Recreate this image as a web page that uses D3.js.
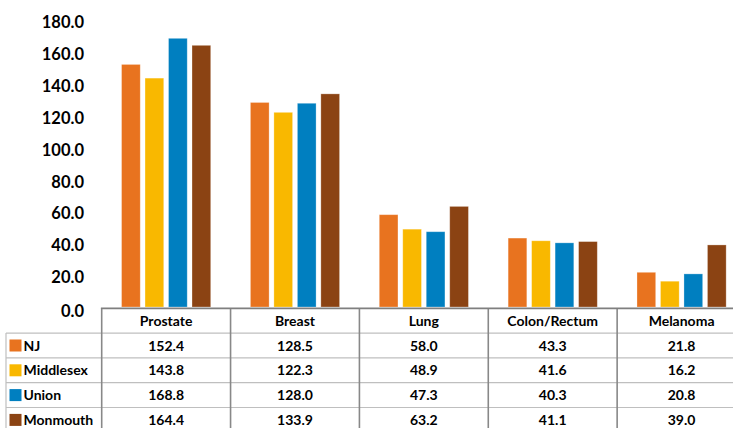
<!DOCTYPE html>
<html>
<head>
<meta charset="utf-8">
<script src="https://cdn.jsdelivr.net/npm/d3@7"></script>
<style>
  html, body { margin: 0; padding: 0; background: #fff; }
  svg { display: block; font-family: Lato, "Open Sans", sans-serif; font-weight: bold; }
</style>
</head>
<body>
<svg id="chart" width="733" height="428"></svg>
<script>
// Cancer incidence rates by site and area
const categories = ["Prostate", "Breast", "Lung", "Colon/Rectum", "Melanoma"];
const seriesNames = ["NJ", "Middlesex", "Union", "Monmouth"];
const seriesColors = ["#E8731F", "#F9B800", "#007FC0", "#8B4313"];
const njValues = [152.4, 128.5, 58.0, 43.3, 21.8];
const middlesexValues = [143.8, 122.3, 48.9, 41.6, 16.2];
const unionValues = [168.8, 128.0, 47.3, 40.3, 20.8];
const monmouthValues = [164.4, 133.9, 63.2, 41.1, 39.0];
const yTicks = [0, 20, 40, 60, 80, 100, 120, 140, 160, 180];

const seriesValues = [njValues, middlesexValues, unionValues, monmouthValues];

const svg = d3.select("#chart");

// Plot geometry
const plotLeft = 101.7, plotRight = 746;
const y0 = 307, yTop = 20.5;
const rowH = 24.8;
const legendLeft = 6;

const x = d3.scaleBand().domain(categories).range([plotLeft, plotRight]).paddingInner(0).paddingOuter(0);
const xs = d3.scaleBand().domain(seriesNames).range([0, x.bandwidth()]).paddingOuter(0.845).paddingInner(0.204);
const y = d3.scaleLinear().domain([0, 180]).range([y0, yTop]);

// Y axis labels
const yAxis = d3.axisLeft(y).tickValues(yTicks).tickFormat(d3.format(".1f")).tickSize(0).tickPadding(0);
const gy = svg.append("g").attr("transform", "translate(84,0)").call(yAxis);
gy.select(".domain").remove();
gy.selectAll("text")
  .attr("font-size", 16.5).attr("font-family", "Lato, sans-serif").attr("font-weight", "bold")
  .attr("fill", "#000").attr("dy", "0.36em")
  .attr("transform", d => d === 0 ? "translate(0,4)" : "translate(0,1.5)");

// Bars
const groups = svg.append("g").selectAll("g")
  .data(seriesNames)
  .join("g")
  .attr("fill", (d, i) => seriesColors[i]);

groups.selectAll("rect")
  .data((s, si) => categories.map((c, ci) => ({ cat: c, series: s, value: seriesValues[si][ci] })))
  .join("rect")
  .attr("x", d => x(d.cat) + xs(d.series))
  .attr("width", xs.bandwidth())
  .attr("y", d => y(d.value))
  .attr("height", d => y0 - y(d.value))
  .attr("stroke", "#fff").attr("stroke-opacity", 0.35).attr("stroke-width", 0.8);

// Data table
const table = svg.append("g");
const headTop = 308.3;
const rowsTop = headTop + rowH;
const tableBottom = rowsTop + rowH * seriesNames.length;

// Row separators (light)
for (let r = 0; r <= seriesNames.length; r++) {
  table.append("line")
    .attr("x1", legendLeft).attr("x2", plotRight)
    .attr("y1", rowsTop + r * rowH).attr("y2", rowsTop + r * rowH)
    .attr("stroke", "#BFBFBF").attr("stroke-width", 1.2);
}
// Legend column left edge
table.append("line")
  .attr("x1", legendLeft).attr("x2", legendLeft)
  .attr("y1", rowsTop).attr("y2", tableBottom)
  .attr("stroke", "#BFBFBF").attr("stroke-width", 1.2);
// Column separators (darker)
categories.forEach((c, i) => {
  table.append("line")
    .attr("x1", x(c)).attr("x2", x(c))
    .attr("y1", headTop).attr("y2", tableBottom)
    .attr("stroke", "#888").attr("stroke-width", 1.6);
});
// Category axis line
table.append("line")
  .attr("x1", plotLeft - 0.8).attr("x2", plotRight)
  .attr("y1", headTop).attr("y2", headTop)
  .attr("stroke", "#7F7F7F").attr("stroke-width", 1.8);

// Header text
table.selectAll("text.head")
  .data(categories)
  .join("text")
  .attr("class", "head")
  .attr("x", d => x(d) + x.bandwidth() / 2)
  .attr("y", headTop + rowH / 2)
  .attr("dy", "0.36em")
  .attr("text-anchor", "middle")
  .attr("font-size", 14)
  .attr("fill", "#000")
  .text(d => d);

// Rows: legend key, name and values
seriesNames.forEach((s, si) => {
  const cy = rowsTop + si * rowH + rowH / 2;
  table.append("rect")
    .attr("x", 9.5).attr("y", cy - 6)
    .attr("width", 12).attr("height", 12)
    .attr("fill", seriesColors[si]);
  table.append("text")
    .attr("x", 23.5).attr("y", cy).attr("dy", "0.36em")
    .attr("font-size", 14).attr("fill", "#000")
    .text(s);
  table.selectAll(null)
    .data(categories.map((c, ci) => ({ cat: c, value: seriesValues[si][ci] })))
    .join("text")
    .attr("x", d => x(d.cat) + x.bandwidth() / 2)
    .attr("y", cy).attr("dy", "0.36em")
    .attr("text-anchor", "middle")
    .attr("font-size", 14).attr("fill", "#000")
    .text(d => d.value.toFixed(1));
});
</script>
</body>
</html>
